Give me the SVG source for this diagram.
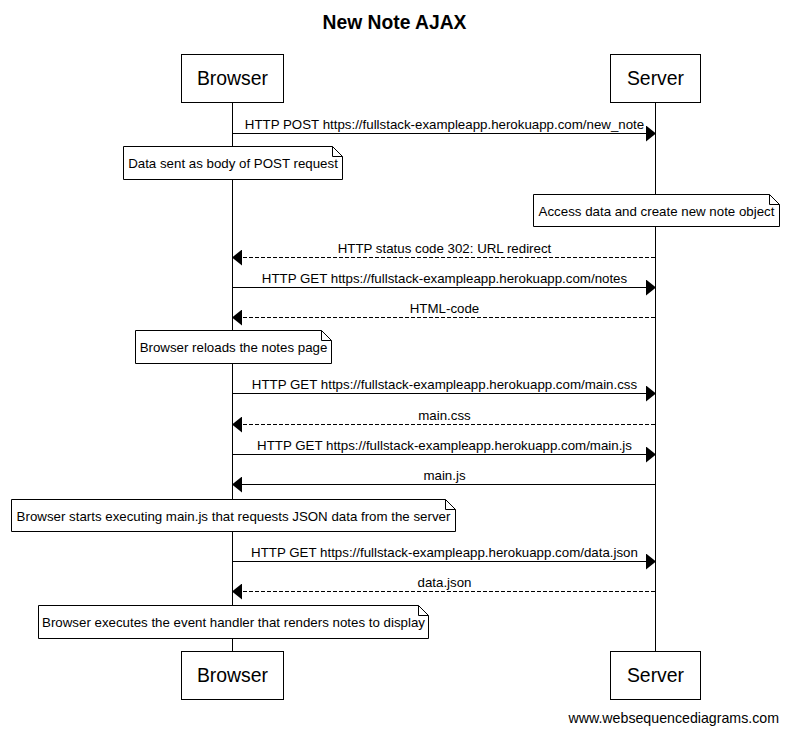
<svg xmlns="http://www.w3.org/2000/svg" width="788" height="734" viewBox="0 0 788 734">
<style>
text{font-family:"Liberation Sans",Arial,sans-serif;fill:#000}
.title{font-size:19.3px;font-weight:bold;text-anchor:middle}
.actor rect{fill:#fff;stroke:#000;stroke-width:1}
.actor text{font-size:19.4px;text-anchor:middle}
.life{stroke:#000;stroke-width:1}
.msg{stroke:#000;stroke-width:1;fill:none}
.dash{stroke-dasharray:4,2}
.lbl{font-size:13.3px;text-anchor:middle}
.note path.b{fill:#fff;stroke:#000;stroke-width:1}
.note path.f{fill:none;stroke:#000;stroke-width:1}
.note text{font-size:13.3px;text-anchor:middle}
.wm{font-size:14.2px;text-anchor:end}
</style>
<defs>
<marker id="ah" markerUnits="userSpaceOnUse" markerWidth="10" markerHeight="16" refX="10" refY="8" orient="auto" viewBox="0 0 10 16">
<path d="M0,0 L10,8 L0,16 Z" fill="#000" stroke="none"/>
</marker>
</defs>
<rect width="788" height="734" fill="#fff"/>
<text class="title" x="394.5" y="29">New Note AJAX</text>
<g id="lifelines">
<line class="life" x1="232.5" y1="103" x2="232.5" y2="651"/>
<line class="life" x1="655.5" y1="103" x2="655.5" y2="651"/>
</g>
<g id="browser-top" class="actor"><rect x="181.5" y="54.5" width="102" height="48"/><text x="232.5" y="85">Browser</text></g>
<g id="server-top" class="actor"><rect x="610.5" y="54.5" width="90" height="48"/><text x="655.5" y="85">Server</text></g>
<g id="browser-bottom" class="actor"><rect x="181.5" y="651.5" width="102" height="48"/><text x="232.5" y="682">Browser</text></g>
<g id="server-bottom" class="actor"><rect x="610.5" y="651.5" width="90" height="48"/><text x="655.5" y="682">Server</text></g>
<g id="connectors">
<line class="msg" x1="233" y1="133.5" x2="656" y2="133.5" marker-end="url(#ah)"/>
<text class="lbl" x="444.5" y="129">HTTP POST https://fullstack-exampleapp.herokuapp.com/new_note</text>
<line class="msg dash" x1="655" y1="257.5" x2="232" y2="257.5" marker-end="url(#ah)"/>
<text class="lbl" x="444.5" y="253">HTTP status code 302: URL redirect</text>
<line class="msg" x1="233" y1="287.5" x2="656" y2="287.5" marker-end="url(#ah)"/>
<text class="lbl" x="444.5" y="283">HTTP GET https://fullstack-exampleapp.herokuapp.com/notes</text>
<line class="msg dash" x1="655" y1="317.5" x2="232" y2="317.5" marker-end="url(#ah)"/>
<text class="lbl" x="444.5" y="313">HTML-code</text>
<line class="msg" x1="233" y1="393.5" x2="656" y2="393.5" marker-end="url(#ah)"/>
<text class="lbl" x="444.5" y="389">HTTP GET https://fullstack-exampleapp.herokuapp.com/main.css</text>
<line class="msg dash" x1="655" y1="424.5" x2="232" y2="424.5" marker-end="url(#ah)"/>
<text class="lbl" x="444.5" y="420">main.css</text>
<line class="msg" x1="233" y1="454.5" x2="656" y2="454.5" marker-end="url(#ah)"/>
<text class="lbl" x="444.5" y="450">HTTP GET https://fullstack-exampleapp.herokuapp.com/main.js</text>
<line class="msg" x1="655" y1="484.5" x2="232" y2="484.5" marker-end="url(#ah)"/>
<text class="lbl" x="444.5" y="480">main.js</text>
<line class="msg" x1="233" y1="561.5" x2="656" y2="561.5" marker-end="url(#ah)"/>
<text class="lbl" x="444.5" y="557">HTTP GET https://fullstack-exampleapp.herokuapp.com/data.json</text>
<line class="msg dash" x1="655" y1="591.5" x2="232" y2="591.5" marker-end="url(#ah)"/>
<text class="lbl" x="444.5" y="587">data.json</text>
</g>
<g id="note1" class="note">
<path class="b" d="M123.5,146.5 H332.5 L342.5,156.5 V179.5 H123.5 Z"/>
<path class="f" d="M332.5,146.5 V156.5 H342.5"/>
<text x="233" y="167.5">Data sent as body of POST request</text>
</g>
<g id="note2" class="note">
<path class="b" d="M533.5,194.5 H769.5 L779.5,204.5 V226.5 H533.5 Z"/>
<path class="f" d="M769.5,194.5 V204.5 H779.5"/>
<text x="656.5" y="215.5">Access data and create new note object</text>
</g>
<g id="note3" class="note">
<path class="b" d="M135.5,330.5 H321.5 L331.5,340.5 V363.5 H135.5 Z"/>
<path class="f" d="M321.5,330.5 V340.5 H331.5"/>
<text x="233.5" y="351.5">Browser reloads the notes page</text>
</g>
<g id="note4" class="note">
<path class="b" d="M11.5,499.5 H445.5 L455.5,509.5 V531.5 H11.5 Z"/>
<path class="f" d="M445.5,499.5 V509.5 H455.5"/>
<text x="233.5" y="520.5">Browser starts executing main.js that requests JSON data from the server</text>
</g>
<g id="note5" class="note">
<path class="b" d="M38.5,605.5 H418.5 L428.5,615.5 V638.5 H38.5 Z"/>
<path class="f" d="M418.5,605.5 V615.5 H428.5"/>
<text x="233.5" y="626.5">Browser executes the event handler that renders notes to display</text>
</g>
<text class="wm" x="779" y="723">www.websequencediagrams.com</text>
</svg>
